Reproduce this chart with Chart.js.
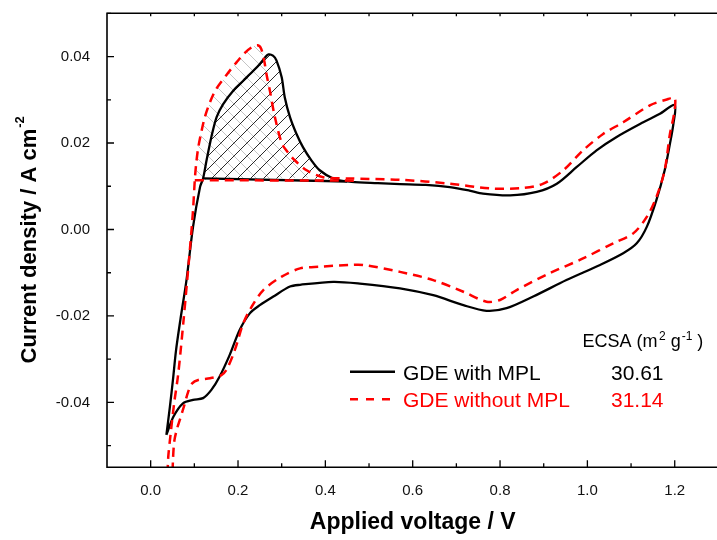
<!DOCTYPE html>
<html>
<head>
<meta charset="utf-8">
<script src="https://cdn.jsdelivr.net/npm/chart.js@4.4.1/dist/chart.umd.min.js"></script>
<style>
  html, body { margin: 0; padding: 0; background: #fff; overflow: hidden; }
  #wrap { width: 717px; height: 540px; overflow: hidden; }
</style>
</head>
<body>
<div id="wrap"><canvas id="cv" width="720" height="540"></canvas></div>
<script>
// --- data: [voltage V, current density A cm-2] ---
const withMplRise = [[0.036,-0.0475],[0.044,-0.041],[0.051,-0.0348],[0.058,-0.028],[0.068,-0.0209],[0.082,-0.0117],[0.097,0.0006],[0.113,0.0098]];
const withMplPeak = [[0.120,0.0118],[0.128,0.016],[0.139,0.0214],[0.151,0.026],[0.166,0.029],[0.189,0.0321],[0.212,0.0344],[0.235,0.0367],[0.250,0.0383],[0.262,0.0398],[0.270,0.0405],[0.280,0.0402],[0.288,0.0391],[0.300,0.0352],[0.307,0.0306],[0.319,0.026],[0.334,0.0221],[0.349,0.019],[0.368,0.016],[0.387,0.0137],[0.418,0.0118]];
const withMplForward = [[0.46,0.0110],[0.52,0.0107],[0.571,0.0105],[0.63,0.0103],[0.685,0.0098],[0.73,0.0090],[0.761,0.0083],[0.823,0.0079],[0.884,0.0087],[0.930,0.0106],[0.975,0.0144],[1.021,0.0183],[1.067,0.0214],[1.128,0.0248],[1.165,0.0267],[1.200,0.0288]];
const withMplReverse = [[1.197,0.0245],[1.189,0.0198],[1.177,0.0137],[1.158,0.0068],[1.136,0.0006],[1.113,-0.0032],[1.082,-0.0055],[1.029,-0.0082],[0.952,-0.0117],[0.876,-0.0155],[0.815,-0.0182],[0.769,-0.0188],[0.716,-0.0175],[0.647,-0.0152],[0.571,-0.0136],[0.479,-0.0125],[0.418,-0.0121],[0.342,-0.0128],[0.319,-0.0132],[0.281,-0.0155],[0.250,-0.0175],[0.227,-0.0194],[0.204,-0.0232],[0.181,-0.0290],[0.158,-0.0340],[0.139,-0.0371],[0.120,-0.0390],[0.097,-0.0394],[0.074,-0.0402],[0.052,-0.0433],[0.036,-0.0475]];
const withMplBase = [[0.120,0.0118],[0.45,0.0111]];

const withoutMplRise = [[0.038,-0.060],[0.040,-0.053],[0.046,-0.0470],[0.054,-0.0400],[0.063,-0.0335],[0.075,-0.0213],[0.090,-0.0044],[0.097,0.0045]];
const withoutMplPeak = [[0.101,0.0114],[0.104,0.0150],[0.109,0.0190],[0.117,0.0230],[0.124,0.0260],[0.136,0.0295],[0.150,0.0325],[0.174,0.0358],[0.197,0.0387],[0.215,0.0408],[0.232,0.0422],[0.245,0.0426],[0.253,0.0418],[0.260,0.0390],[0.266,0.0355],[0.273,0.0321],[0.284,0.0262],[0.300,0.0200],[0.313,0.0180],[0.326,0.0164],[0.357,0.0137],[0.395,0.0121]];
const withoutMplForward = [[0.456,0.0118],[0.571,0.0115],[0.685,0.0106],[0.777,0.0095],[0.853,0.0096],[0.899,0.0106],[0.945,0.0137],[0.990,0.0183],[1.036,0.0221],[1.082,0.0248],[1.143,0.0287],[1.180,0.0300],[1.200,0.0304]];
const withoutMplReverse = [[1.198,0.0265],[1.189,0.0221],[1.177,0.0137],[1.158,0.0075],[1.136,0.0029],[1.105,-0.0009],[1.059,-0.0032],[0.990,-0.0067],[0.914,-0.0101],[0.838,-0.0140],[0.800,-0.0163],[0.769,-0.0167],[0.716,-0.0144],[0.647,-0.0117],[0.571,-0.0098],[0.487,-0.0082],[0.456,-0.0082],[0.387,-0.0086],[0.342,-0.0090],[0.300,-0.0109],[0.258,-0.0140],[0.231,-0.0179],[0.212,-0.0217],[0.193,-0.0278],[0.175,-0.0322],[0.162,-0.0337],[0.136,-0.0344],[0.109,-0.0348],[0.095,-0.0356],[0.086,-0.0375],[0.076,-0.0410],[0.068,-0.0436],[0.060,-0.0462],[0.054,-0.0490],[0.051,-0.0535],[0.049,-0.0600]];
const withoutMplBase = [[0.101,0.0114],[0.47,0.0113]];

const seriesNames = ['GDE with MPL', 'GDE without MPL'];
const ecsaValues = [30.61, 31.14];

const xTicks = [0.0, 0.2, 0.4, 0.6, 0.8, 1.0, 1.2];
const yTicks = [-0.04, -0.02, 0.00, 0.02, 0.04];

const FONT = "'Liberation Sans', Arial, sans-serif";
const RED = '#ff0000';

const pts = arr => arr.map(p => ({x: p[0], y: p[1]}));

function hatch(color, dir) {
    const s = 13;
    const c = document.createElement('canvas');
    c.width = s; c.height = s;
    const g = c.getContext('2d');
    g.strokeStyle = color;
    g.lineWidth = 1;
    g.beginPath();
    for (let k = -1; k <= 1; k++) {
        if (dir > 0) { g.moveTo(k * s, s); g.lineTo(k * s + s, 0); }
        else { g.moveTo(k * s, 0); g.lineTo(k * s + s, s); }
    }
    g.stroke();
    return g.createPattern(c, 'repeat');
}

// inward ticks and the frame (right side falls outside the picture)
const framePlugin = {
    id: 'frame',
    afterDatasetsDraw(chart) {
        const {ctx, chartArea: a, scales: {x, y}} = chart;
        ctx.save();
        ctx.strokeStyle = '#000';
        ctx.lineWidth = 1.3;
        ctx.beginPath();
        for (let i = 1; i <= 13; i++) {
            const px = x.getPixelForValue(-0.1 + i * 0.1);
            const len = i % 2 === 1 ? 7 : 4;
            ctx.moveTo(px, a.bottom); ctx.lineTo(px, a.bottom - len);
            ctx.moveTo(px, a.top); ctx.lineTo(px, a.top + 3);
        }
        for (let i = 0; i <= 10; i++) {
            const py = y.getPixelForValue(-0.05 + i * 0.01);
            const len = i % 2 === 1 ? 7 : 4;
            ctx.moveTo(a.left, py); ctx.lineTo(a.left + len, py);
        }
        ctx.stroke();
        ctx.lineWidth = 1.6;
        ctx.beginPath();
        ctx.moveTo(chart.width, a.top);
        ctx.lineTo(a.left, a.top);
        ctx.lineTo(a.left, a.bottom);
        ctx.lineTo(chart.width, a.bottom);
        ctx.stroke();
        ctx.restore();
    }
};

// y title (with superscript) and the ECSA legend block
const textPlugin = {
    id: 'texts',
    afterDraw(chart) {
        const {ctx, chartArea: a} = chart;
        ctx.save();
        const main = 'Current density / A cm', sup = '-2';
        ctx.font = 'bold 22px ' + FONT;
        const w1 = ctx.measureText(main).width;
        ctx.font = 'bold 13px ' + FONT;
        const w2 = ctx.measureText(sup).width;
        ctx.translate(36, (a.top + a.bottom) / 2);
        ctx.rotate(-Math.PI / 2);
        ctx.fillStyle = '#000';
        ctx.textBaseline = 'alphabetic';
        ctx.font = 'bold 22px ' + FONT;
        ctx.fillText(main, -(w1 + w2) / 2, 0);
        ctx.font = 'bold 13px ' + FONT;
        ctx.fillText(sup, -(w1 + w2) / 2 + w1 + 1, -12);
        ctx.restore();

        ctx.save();
        ctx.textBaseline = 'alphabetic';
        let hx = 582.5;
        const parts = [['ECSA (m', 18, 0, 1.5], ['2', 12, -7, 0], [' g', 18, 0, 1], ['-1', 12, -7, 0], [' )', 18, 0, 0]];
        ctx.fillStyle = '#000';
        parts.forEach(([t, size, dy, gap]) => {
            ctx.font = size + 'px ' + FONT;
            ctx.fillText(t, hx, 346.5 + dy);
            hx += ctx.measureText(t).width + gap;
        });
        const rows = [{y: 371.7, base: 379.5, color: '#000', dash: []}, {y: 399.3, base: 406.5, color: RED, dash: [8, 8]}];
        rows.forEach((r, i) => {
            ctx.strokeStyle = r.color;
            ctx.lineWidth = 2.5;
            ctx.setLineDash(r.dash);
            ctx.beginPath();
            ctx.moveTo(350, r.y); ctx.lineTo(395, r.y);
            ctx.stroke();
            ctx.setLineDash([]);
            ctx.fillStyle = r.color;
            ctx.font = '21px ' + FONT;
            ctx.fillText(seriesNames[i], 403, r.base);
            ctx.fillText(ecsaValues[i].toFixed(2), 611, r.base);
        });
        ctx.restore();
    }
};

const lineStyle = {showLine: true, pointRadius: 0, tension: 0.3, fill: false};

new Chart(document.getElementById('cv'), {
    type: 'scatter',
    data: {
        datasets: [
            {...lineStyle, label: seriesNames[1], borderColor: RED, borderWidth: 2.5, borderDash: [9, 6],
             data: pts([...withoutMplRise, ...withoutMplPeak, ...withoutMplForward, ...withoutMplReverse])},
            {...lineStyle, label: 'base2', borderColor: RED, borderWidth: 2.5, borderDash: [9, 6], tension: 0,
             data: pts(withoutMplBase)},
            {...lineStyle, label: seriesNames[0], borderColor: '#000', borderWidth: 2.3,
             data: pts([...withMplRise, ...withMplPeak, ...withMplForward, ...withMplReverse])},
            {...lineStyle, label: 'base1', borderColor: '#000', borderWidth: 2.3, tension: 0,
             data: pts(withMplBase)},
            {...lineStyle, label: 'area1', borderWidth: 0, borderColor: 'rgba(0,0,0,0)',
             backgroundColor: hatch('#2a2a2a', 1), fill: 'shape', data: pts(withMplPeak)},
            {...lineStyle, label: 'area2', borderWidth: 0, borderColor: 'rgba(0,0,0,0)',
             backgroundColor: hatch('#c4c4c4', -1), fill: 'shape', data: pts(withoutMplPeak)}
        ]
    },
    options: {
        responsive: false,
        animation: false,
        devicePixelRatio: 1,
        layout: {padding: {top: 13.3, right: 1.6, left: 0, bottom: 0}},
        plugins: {legend: {display: false}, tooltip: {enabled: false}},
        scales: {
            x: {
                type: 'linear', min: -0.1, max: 1.3,
                afterFit: s => { s.height = 72.7; s.paddingLeft = 0; s.paddingRight = 0; },
                afterBuildTicks: s => { s.ticks = xTicks.map(v => ({value: v})); },
                grid: {display: false, drawTicks: false},
                border: {display: false},
                ticks: {padding: 15, color: '#111', font: {family: FONT, size: 15}, maxRotation: 0, autoSkip: false,
                        callback: v => v.toFixed(1)},
                title: {display: true, text: 'Applied voltage / V', color: '#000',
                        font: {family: FONT, size: 23, weight: 'bold'}, padding: {top: 0, bottom: 4}}
            },
            y: {
                type: 'linear', min: -0.055, max: 0.05,
                afterFit: s => { s.width = 107; s.paddingTop = 0; s.paddingBottom = 0; },
                afterBuildTicks: s => { s.ticks = yTicks.map(v => ({value: v})); },
                grid: {display: false, drawTicks: false},
                border: {display: false},
                ticks: {padding: 17, color: '#111', font: {family: FONT, size: 15}, autoSkip: false,
                        callback: v => (Math.abs(v) < 1e-9 ? 0 : v).toFixed(2)}
            }
        }
    },
    plugins: [framePlugin, textPlugin]
});
</script>
</body>
</html>
